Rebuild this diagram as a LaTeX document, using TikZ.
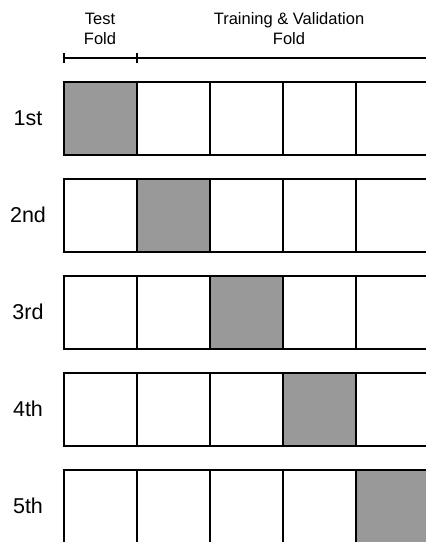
\documentclass[tikz,border=0pt]{standalone}
\usepackage{fontspec}
\setmainfont{Liberation Sans}

\tikzset{
    fold/.style={draw=black, line width=1.6pt, minimum width=73pt, minimum height=73pt,
        inner sep=0pt, outer sep=0pt},
    header/.style={font=\fontsize{16.5}{20}\selectfont, align=center, inner sep=0pt},
    rowlabel/.style={font=\fontsize{21.5}{24}\selectfont, inner sep=0pt},
    bar/.style={line width=1.6pt, draw=black}
}

\begin{document}
\begin{tikzpicture}[x=1pt, y=-1pt]
            \clip (0, 0) rectangle (426, 542);
            % Headers and scale bar:
                \node[header] (test) at (100, 29) {Test\\Fold};
                \node[header] (train) at (289, 29) {Training \& Validation\\Fold};
                \coordinate (barL) at (64, 58);
                \coordinate (barM) at (137, 58);
                \coordinate (barR) at (426, 58);
                \draw[bar] (barL) -- (barR);
                \draw[bar] ([yshift=5pt]barL) -- ([yshift=-5pt]barL);
                \draw[bar] ([yshift=5pt]barM) -- ([yshift=-5pt]barM);
            % Folds, one row per split:
                \foreach \r/\lab in {1/1st, 2/2nd, 3/3rd, 4/4th, 5/5th} {
                    \node[rowlabel] (row\r) at (28, {118 + 97*(\r - 1)}) {\lab};
                    \foreach \k in {1, ..., 5} {
                        \ifnum\k=\r \def\shade{gray!80}\else \def\shade{white}\fi
                        \node[fold, fill=\shade] (cell\r\k) at ({100.5 + 73*(\k - 1)}, {118.5 + 97*(\r - 1)}) {};
                    }
                }
            \end{tikzpicture}
\end{document}
